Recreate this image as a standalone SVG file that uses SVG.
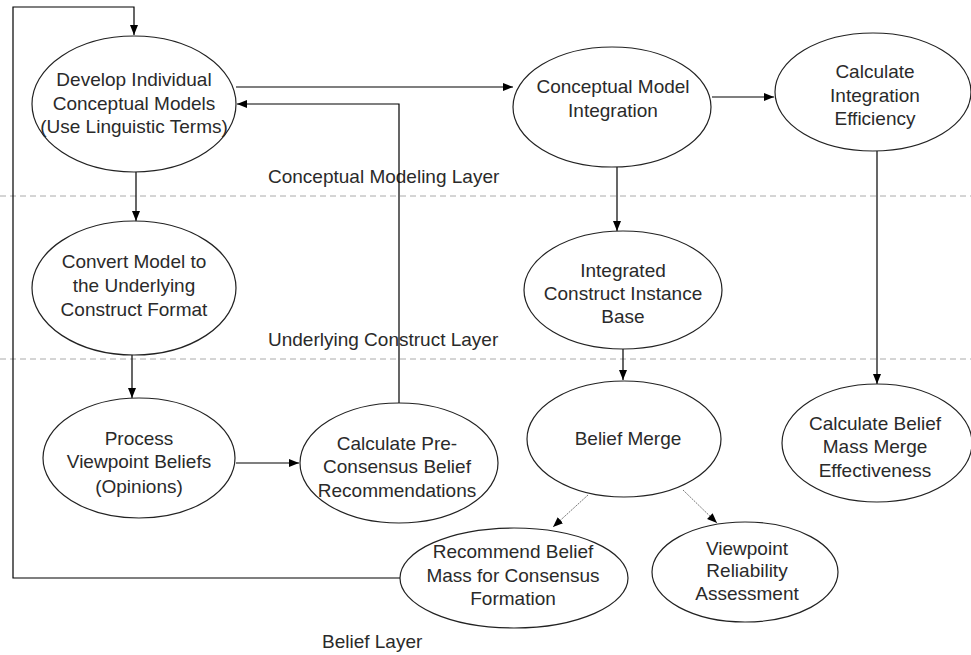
<svg xmlns="http://www.w3.org/2000/svg" width="971" height="655" viewBox="0 0 971 655">
<defs>
<marker id="ah" viewBox="0 0 10 10" refX="10" refY="5" markerWidth="10" markerHeight="10" markerUnits="userSpaceOnUse" orient="auto">
<path d="M0,1 L10,5 L0,9 z" fill="#000"/>
</marker>
<style>
.n ellipse{fill:#fff;stroke:#222;stroke-width:1.2}
.n text,.lbl{font-family:"Liberation Sans",Arial,sans-serif;font-size:19px;fill:#2a2a2a;text-anchor:middle}
.lbl{text-anchor:start}
.sm{font-size:16px}
.c{fill:none;stroke:#000;stroke-width:1.2}
.d{fill:none;stroke:#777;stroke-width:1;stroke-dasharray:2 1}
.layer{stroke:#aaa;stroke-width:1;stroke-dasharray:6 4}
</style>
</defs>
<rect width="971" height="655" fill="#fff"/>
<g id="layers">
<line class="layer" x1="0" y1="196" x2="971" y2="196"/>
<line class="layer" x1="0" y1="359" x2="971" y2="359"/>
<text class="lbl" x="268" y="183">Conceptual Modeling Layer</text>
<text class="lbl" x="268" y="346">Underlying Construct Layer</text>
<text class="lbl" x="322" y="648">Belief Layer</text>
</g>
<g id="connectors">
<polyline class="c" points="400,578 13,578 13,7 134,7 134,35" marker-end="url(#ah)"/>
<line class="c" x1="236" y1="87" x2="513" y2="87" marker-end="url(#ah)"/>
<polyline class="c" points="399,403 399,104 237,104" marker-end="url(#ah)"/>
<line class="c" x1="136" y1="172" x2="136" y2="221" marker-end="url(#ah)"/>
<line class="c" x1="132" y1="355" x2="132" y2="398" marker-end="url(#ah)"/>
<line class="c" x1="236" y1="463" x2="299" y2="463" marker-end="url(#ah)"/>
<line class="c" x1="712" y1="97" x2="774" y2="97" marker-end="url(#ah)"/>
<line class="c" x1="617" y1="167" x2="617" y2="231" marker-end="url(#ah)"/>
<line class="c" x1="623" y1="349" x2="623" y2="380" marker-end="url(#ah)"/>
<line class="c" x1="877" y1="151" x2="877" y2="384" marker-end="url(#ah)"/>
<line class="d" x1="588" y1="495" x2="553" y2="527" marker-end="url(#ah)"/>
<line class="d" x1="683" y1="490" x2="717" y2="523" marker-end="url(#ah)"/>
</g>
<g id="n1" class="n">
<ellipse cx="134" cy="104" rx="102" ry="68"/>
<text x="134" y="86">Develop Individual</text>
<text x="134" y="110">Conceptual Models</text>
<text x="134" y="133" class="sm">(Use Linguistic Terms)</text>
</g>
<g id="n2" class="n">
<ellipse cx="134" cy="288" rx="102" ry="67"/>
<text x="134" y="268">Convert Model to</text>
<text x="134" y="292">the Underlying</text>
<text x="134" y="316">Construct Format</text>
</g>
<g id="n3" class="n">
<ellipse cx="139" cy="458" rx="96" ry="60"/>
<text x="139" y="445">Process</text>
<text x="139" y="468">Viewpoint Beliefs</text>
<text x="139" y="493">(Opinions)</text>
</g>
<g id="n4" class="n">
<ellipse cx="399" cy="463" rx="99" ry="60"/>
<text x="397" y="450">Calculate Pre-</text>
<text x="397" y="473">Consensus Belief</text>
<text x="397" y="497">Recommendations</text>
</g>
<g id="n5" class="n">
<ellipse cx="514" cy="578" rx="114" ry="50"/>
<text x="513" y="558">Recommend Belief</text>
<text x="513" y="582">Mass for Consensus</text>
<text x="513" y="605">Formation</text>
</g>
<g id="n6" class="n">
<ellipse cx="612" cy="107" rx="99" ry="60"/>
<text x="613" y="93">Conceptual Model</text>
<text x="613" y="117">Integration</text>
</g>
<g id="n7" class="n">
<ellipse cx="623" cy="290" rx="99" ry="59"/>
<text x="623" y="277">Integrated</text>
<text x="623" y="300">Construct Instance</text>
<text x="623" y="323">Base</text>
</g>
<g id="n8" class="n">
<ellipse cx="624" cy="439" rx="97" ry="58"/>
<text x="628" y="445">Belief Merge</text>
</g>
<g id="n9" class="n">
<ellipse cx="745" cy="572" rx="93" ry="50"/>
<text x="747" y="555">Viewpoint</text>
<text x="747" y="577">Reliability</text>
<text x="747" y="600">Assessment</text>
</g>
<g id="n10" class="n">
<ellipse cx="873" cy="92" rx="98" ry="59"/>
<text x="875" y="78">Calculate</text>
<text x="875" y="102">Integration</text>
<text x="875" y="125">Efficiency</text>
</g>
<g id="n11" class="n">
<ellipse cx="877" cy="443" rx="95" ry="59"/>
<text x="875" y="430">Calculate Belief</text>
<text x="875" y="453">Mass Merge</text>
<text x="875" y="477">Effectiveness</text>
</g>
</svg>
